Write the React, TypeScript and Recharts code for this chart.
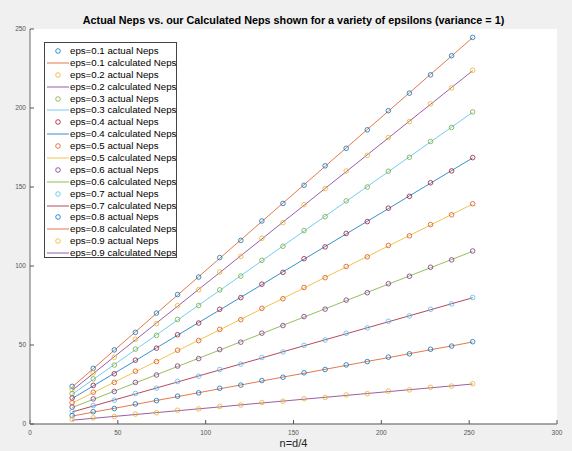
import { LineChart, Line, XAxis, YAxis, CartesianGrid } from 'recharts';

const FONT = '"Liberation Sans", Arial, Helvetica, sans-serif';

// MATLAB default colour order
const C1 = '#0072BD';
const C2 = '#D95319';
const C3 = '#EDB120';
const C4 = '#7E2F8E';
const C5 = '#77AC30';
const C6 = '#4DBEEE';
const C7 = '#A2142F';

const nValues = [24, 36, 48, 60, 72, 84, 96, 108, 120, 132, 144, 156, 168, 180, 192, 204, 216, 228, 240, 252];

const act01 = [23.8, 35.2, 46.9, 58.0, 70.2, 81.9, 93.0, 105.3, 116.2, 128.5, 139.6, 151.1, 163.4, 174.5, 186.2, 198.3, 209.4, 221.0, 233.1, 244.7];
const calc01 = [23.4, 35.0, 46.7, 58.3, 70.0, 81.6, 93.2, 104.9, 116.5, 128.2, 139.8, 151.4, 163.1, 174.7, 186.4, 198.0, 209.6, 221.3, 232.9, 244.6];
const act02 = [21.8, 32.4, 42.2, 53.6, 63.5, 74.9, 85.0, 96.2, 106.1, 117.5, 127.4, 138.8, 149.0, 160.1, 170.0, 181.3, 191.4, 202.6, 212.7, 223.9];
const calc02 = [21.3, 31.9, 42.6, 53.2, 63.9, 74.5, 85.2, 95.8, 106.5, 117.1, 127.8, 138.4, 149.1, 159.7, 170.4, 181.0, 191.7, 202.3, 213.0, 223.6];
const act03 = [19.2, 28.6, 37.3, 47.4, 56.1, 66.2, 75.0, 84.9, 93.6, 103.6, 112.5, 122.4, 131.2, 141.2, 150.0, 160.0, 168.8, 178.8, 187.7, 197.5];
const calc03 = [18.8, 28.2, 37.6, 47.0, 56.4, 65.8, 75.2, 84.5, 93.9, 103.3, 112.7, 122.1, 131.5, 140.9, 150.3, 159.7, 169.1, 178.5, 187.9, 197.3];
const act04 = [16.5, 24.4, 31.8, 40.4, 48.0, 56.5, 63.9, 72.6, 80.0, 88.5, 96.0, 104.6, 112.1, 120.6, 128.1, 136.6, 144.1, 152.7, 160.2, 168.6];
const calc04 = [16.1, 24.1, 32.1, 40.1, 48.2, 56.2, 64.2, 72.2, 80.2, 88.2, 96.3, 104.3, 112.3, 120.3, 128.3, 136.3, 144.4, 152.4, 160.4, 168.4];
const act05 = [13.5, 20.1, 26.3, 33.4, 39.5, 46.7, 52.8, 59.9, 66.0, 73.2, 79.3, 86.4, 92.6, 99.7, 105.8, 113.0, 119.1, 126.2, 132.4, 139.4];
const calc05 = [13.2, 19.8, 26.5, 33.1, 39.7, 46.4, 53.0, 59.6, 66.2, 72.9, 79.5, 86.1, 92.8, 99.4, 106.0, 112.7, 119.3, 125.9, 132.6, 139.2];
const act06 = [10.7, 15.9, 20.6, 26.3, 31.0, 36.7, 41.4, 47.1, 51.8, 57.5, 62.3, 68.0, 72.7, 78.4, 83.1, 88.8, 93.5, 99.2, 103.9, 109.5];
const calc06 = [10.4, 15.6, 20.8, 26.0, 31.2, 36.4, 41.6, 46.8, 52.0, 57.2, 62.5, 67.7, 72.9, 78.1, 83.3, 88.5, 93.7, 98.9, 104.1, 109.3];
const act07 = [7.9, 11.7, 15.1, 19.3, 22.7, 26.9, 30.3, 34.5, 37.9, 42.1, 45.6, 49.8, 53.2, 57.4, 60.8, 65.0, 68.4, 72.6, 76.0, 80.1];
const calc07 = [7.6, 11.4, 15.2, 19.0, 22.8, 26.6, 30.4, 34.2, 38.0, 41.8, 45.7, 49.5, 53.3, 57.1, 60.9, 64.7, 68.5, 72.3, 76.1, 79.9];
const act08 = [5.3, 7.8, 9.8, 12.7, 14.8, 17.6, 19.7, 22.6, 24.6, 27.5, 29.6, 32.4, 34.5, 37.4, 39.5, 42.3, 44.4, 47.3, 49.3, 52.1];
const calc08 = [5.0, 7.5, 9.9, 12.4, 14.9, 17.3, 19.8, 22.3, 24.7, 27.2, 29.7, 32.1, 34.6, 37.1, 39.6, 42.0, 44.5, 47.0, 49.4, 51.9];
const act09 = [2.9, 3.9, 4.7, 6.3, 7.1, 8.7, 9.5, 11.1, 12.0, 13.6, 14.4, 16.0, 16.8, 18.4, 19.2, 20.8, 21.6, 23.2, 24.0, 25.5];
const calc09 = [2.4, 3.6, 4.8, 6.0, 7.2, 8.4, 9.6, 10.8, 12.1, 13.3, 14.5, 15.7, 16.9, 18.1, 19.3, 20.5, 21.7, 22.9, 24.1, 25.3];

const xTicks = [0, 50, 100, 150, 200, 250, 300];
const yTicks = [0, 50, 100, 150, 200, 250];

const epsLabels = ['0.1', '0.2', '0.3', '0.4', '0.5', '0.6', '0.7', '0.8', '0.9'];
const actualSets = [act01, act02, act03, act04, act05, act06, act07, act08, act09];
const calcSets = [calc01, calc02, calc03, calc04, calc05, calc06, calc07, calc08, calc09];

// colours cycle through the 7 MATLAB colours in plot order (actual, calculated, actual, ...)
const order = [C1, C2, C3, C4, C5, C6, C7];
const series = epsLabels.flatMap((eps, i) => [
  { key: `a${i}`, label: `eps=${eps} actual Neps`, color: order[(2 * i) % 7], kind: 'actual' as const },
  { key: `c${i}`, label: `eps=${eps} calculated Neps`, color: order[(2 * i + 1) % 7], kind: 'calc' as const },
]);

const data = nValues.map((n, j) => {
  const row: Record<string, number> = { n };
  epsLabels.forEach((_, i) => {
    row[`a${i}`] = actualSets[i][j];
    row[`c${i}`] = calcSets[i][j];
  });
  return row;
});

const tickStyle = { fontSize: 6.5, fill: '#555', fontFamily: FONT };
const axisLine = { stroke: '#8a8a8a', strokeWidth: 1.3 };
const MARK_OPACITY = 0.78;

function LegendBox() {
  return (
    <div style={{
      position: 'absolute',
      left: 44,
      top: 42,
      width: 133,
      height: 216,
      border: '1px solid #444',
      background: '#fff',
      boxSizing: 'border-box',
      paddingTop: 2,
      fontFamily: FONT,
      fontSize: 9.7,
      color: '#000',
    }}>
      {series.map((s) => (
        <div key={s.key} style={{ display: 'flex', alignItems: 'center', height: 11.9 }}>
          <svg width={24} height={12} style={{ marginLeft: 1, flex: 'none' }}>
            {s.kind === 'actual'
              ? <circle cx={12} cy={6} r={2.3} fill="none" stroke={s.color} strokeWidth={1} strokeOpacity={MARK_OPACITY} />
              : <line x1={1} y1={6} x2={23} y2={6} stroke={s.color} strokeWidth={1} strokeOpacity={MARK_OPACITY} />}
          </svg>
          <span style={{ whiteSpace: 'nowrap', lineHeight: '12px' }}>{s.label}</span>
        </div>
      ))}
    </div>
  );
}

export default function App() {
  return (
    <div style={{ position: 'relative', width: 572, height: 451, background: '#f0f0f0', overflow: 'hidden' }}>
      <style>{'body{margin:0}'}</style>
      <div style={{
        position: 'absolute',
        left: 30,
        width: 527,
        top: 12,
        textAlign: 'center',
        fontFamily: FONT,
        fontWeight: 700,
        fontSize: 10.8,
        lineHeight: '16px',
        color: '#000',
        whiteSpace: 'nowrap',
      }}>
        Actual Neps vs. our Calculated Neps shown for a variety of epsilons (variance = 1)
      </div>
      <LineChart
        width={572}
        height={451}
        data={data}
        margin={{ top: 29, right: 15, bottom: 0, left: 0 }}
        style={{ position: 'absolute', left: 0, top: 0 }}
      >
        <CartesianGrid horizontal={false} vertical={false} fill="#fff" stroke="none" />
        <XAxis
          dataKey="n"
          type="number"
          domain={[0, 300]}
          ticks={xTicks}
          interval={0}
          height={27}
          tickSize={-4}
          tickMargin={10}
          axisLine={axisLine}
          tickLine={{ stroke: '#555' }}
          tick={tickStyle}
          label={{ value: 'n=d/4', position: 'insideBottom', offset: 4, fontSize: 11, fill: '#262626', fontFamily: FONT }}
        />
        <YAxis
          type="number"
          domain={[0, 250]}
          ticks={yTicks}
          interval={0}
          width={30}
          tickSize={-4}
          tickMargin={8}
          axisLine={axisLine}
          tickLine={{ stroke: '#555' }}
          tick={tickStyle}
        />
        {series.map((s) =>
          s.kind === 'calc' ? (
            <Line
              key={s.key}
              dataKey={s.key}
              type="linear"
              stroke={s.color}
              strokeOpacity={MARK_OPACITY}
              strokeWidth={1}
              dot={false}
              activeDot={false}
              isAnimationActive={false}
            />
          ) : (
            <Line
              key={s.key}
              dataKey={s.key}
              type="linear"
              stroke="none"
              dot={{ r: 2.3, stroke: s.color, strokeOpacity: MARK_OPACITY, strokeWidth: 1, fill: 'none' }}
              activeDot={false}
              isAnimationActive={false}
            />
          )
        )}
      </LineChart>
      <LegendBox />
    </div>
  );
}
